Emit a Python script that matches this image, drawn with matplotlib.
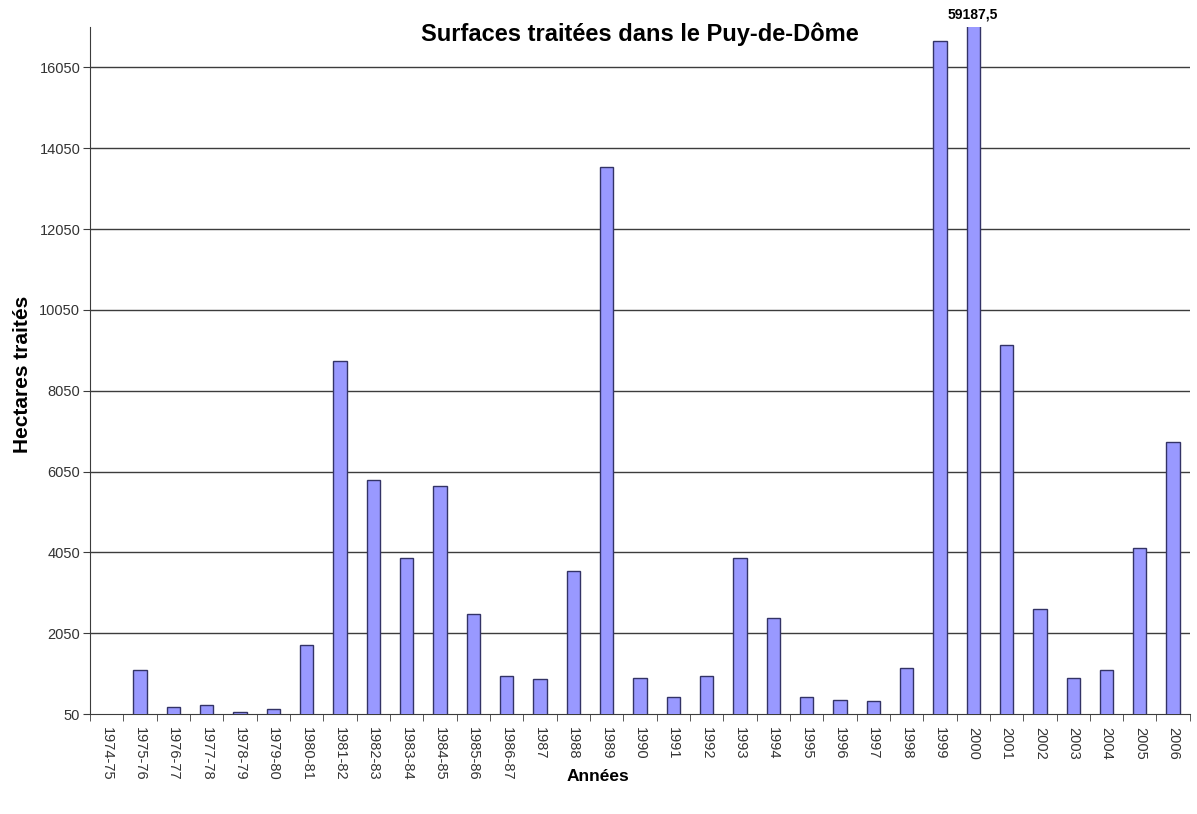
import matplotlib
matplotlib.use("Agg")
import matplotlib.pyplot as plt
import numpy as np

plt.rcParams["font.family"] = ["Liberation Sans", "DejaVu Sans"]

# ── Données ────────────────────────────────────────────────────────────────────
annees = [
    "1974-75", "1975-76", "1976-77", "1977-78", "1978-79", "1979-80",
    "1980-81", "1981-82", "1982-83", "1983-84", "1984-85", "1985-86",
    "1986-87", "1987", "1988", "1989", "1990", "1991", "1992", "1993",
    "1994", "1995", "1996", "1997", "1998", "1999", "2000", "2001",
    "2002", "2003", "2004", "2005", "2006",
]
hectares = [
    0, 1130, 220, 270, 100, 170,
    1750, 8780, 5850, 3900, 5700, 2530,
    1000, 910, 3590, 13580, 930, 460, 980, 3920,
    2430, 460, 400, 370, 1200, 16710, 59187.5, 9190,
    2640, 930, 1130, 4160, 6780,
]
yticks = [50, 2050, 4050, 6050, 8050, 10050, 12050, 14050, 16050]

C_BAR  = "#9999FF"
C_EDGE = "#333366"
C_GRID = "#3c3c3c"
C_TXT  = "#333333"

fig = plt.figure(figsize=(11.97, 8.14), dpi=100, facecolor="white")
ax = fig.add_axes([0.0752, 0.1228, 0.9188, 0.8440])

x = np.arange(len(annees))
ax.bar(x, hectares, width=0.40, color=C_BAR, edgecolor=C_EDGE,
       linewidth=1.0, zorder=3)

ax.set_xlim(-0.5, len(annees) - 0.5)
ax.set_ylim(50, 17050)

# Grille horizontale
ax.set_yticks(yticks)
ax.set_yticklabels([str(t) for t in yticks], fontsize=10.5, color=C_TXT)
for t in yticks[1:]:
    ax.axhline(t, color=C_GRID, lw=1.0, zorder=1)

# Étiquettes centrées sur les barres, graduations entre les catégories
ax.set_xticks(x)
ax.set_xticklabels(annees, rotation=270, fontsize=10.5, color=C_TXT,
                   va="top", ha="center")
ax.tick_params(axis="x", which="major", length=0, pad=9)
ax.set_xticks(np.arange(-0.5, len(annees)), minor=True)
ax.tick_params(axis="x", which="minor", length=5, direction="out",
               color=C_GRID)
ax.tick_params(axis="y", length=5, direction="out", color=C_GRID, pad=2)

ax.spines[["top", "right"]].set_visible(False)
ax.spines["left"].set_color(C_GRID)
ax.spines["bottom"].set_color(C_GRID)

# Valeur de la barre 2000, coupée par l'axe
i2000 = annees.index("2000")
ax.annotate(f"{hectares[i2000]:.1f}".replace(".", ","),
            xy=(x[i2000], 17050), xytext=(0, 4), textcoords="offset points",
            ha="center", va="bottom", fontsize=10, fontweight="bold",
            annotation_clip=False)

fig.text(0.5347, 0.958, "Surfaces traitées dans le Puy-de-Dôme",
         ha="center", va="center", fontsize=17, fontweight="bold")
fig.text(0.019, 0.54, "Hectares traités", rotation=90,
         ha="center", va="center", fontsize=15, fontweight="bold")
fig.text(0.4995, 0.046, "Années", ha="center", va="center",
         fontsize=12.5, fontweight="bold")

fig.savefig("out.png", dpi=100, facecolor="white")
